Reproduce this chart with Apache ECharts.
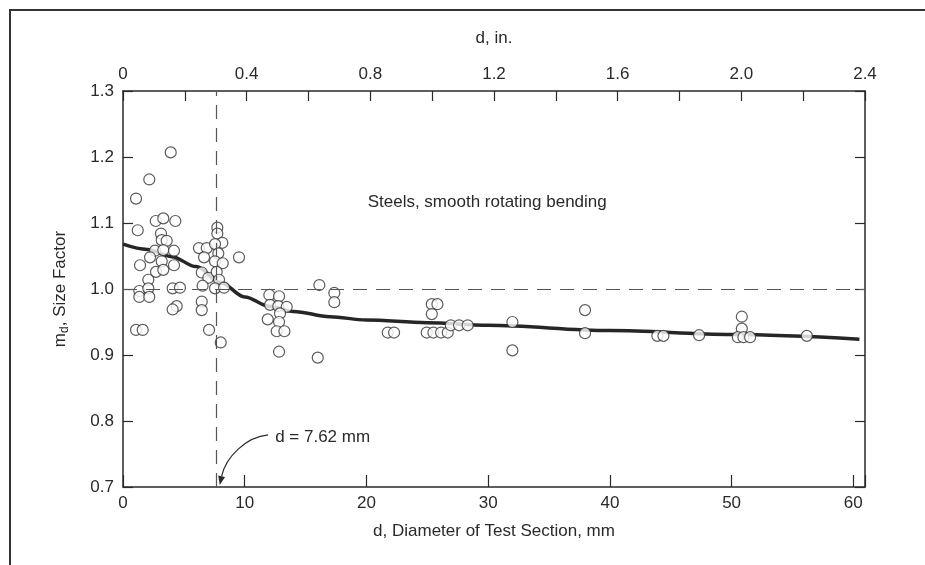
<!DOCTYPE html>
<html>
<head>
<meta charset="utf-8">
<script src="https://cdn.jsdelivr.net/npm/echarts@6/dist/echarts.min.js"></script>
<style>
  html, body { margin: 0; padding: 0; background: #fff; }
  #chart { width: 925px; height: 565px; }
</style>
</head>
<body>
<div id="chart"></div>
<script>
// test data: diameter (mm) and size factor m_d
const pointD = [
  1.07, 1.62, 1.21, 1.07, 2.16, 3.92, 2.69, 3.31, 4.30, 3.12,
  3.18, 3.59, 2.63, 3.31, 4.19, 1.40, 2.22, 3.18, 4.19, 2.71,
  3.31, 2.08, 1.34, 2.08, 1.34, 2.16, 4.08, 4.68, 4.41, 4.08,
  6.24, 6.88, 7.75, 7.75, 8.16, 7.56, 7.83, 7.56, 8.19, 6.66,
  6.47, 7.01, 7.70, 7.89, 7.56, 8.30, 6.54, 6.47, 6.47, 7.07,
  8.03, 9.53,
  12.02, 12.82, 12.08, 12.76, 13.45, 12.90, 11.89, 12.82, 12.63, 13.26,
  12.82,
  16.0, 16.13, 17.36, 17.36, 21.75, 22.27, 24.95, 25.50, 26.13, 26.68,
  25.37, 25.83, 25.37, 26.93, 27.61, 28.32, 31.99, 31.99, 37.96, 37.96,
  43.9, 44.4, 47.33, 50.84, 50.84, 50.51, 50.97, 51.52, 56.18
]
const pointM = [
  0.938, 0.938, 1.089, 1.137, 1.166, 1.207, 1.103, 1.107, 1.103, 1.084,
  1.074, 1.073, 1.058, 1.059, 1.058, 1.036, 1.048, 1.042, 1.036, 1.026,
  1.029, 1.014, 0.997, 1.001, 0.988, 0.988, 1.001, 1.002, 0.974, 0.969,
  1.062, 1.062, 1.093, 1.084, 1.070, 1.068, 1.054, 1.042, 1.039, 1.048,
  1.025, 1.017, 1.026, 1.014, 1.001, 1.002, 1.005, 0.981, 0.968, 0.938,
  0.919, 1.048,
  0.991, 0.989, 0.976, 0.974, 0.973, 0.963, 0.954, 0.950, 0.936, 0.936,
  0.905,
  0.896, 1.006, 0.994, 0.980, 0.934, 0.934, 0.934, 0.934, 0.934, 0.934,
  0.977, 0.977, 0.962, 0.945, 0.945, 0.945, 0.950, 0.907, 0.968, 0.933,
  0.929, 0.929, 0.930, 0.958, 0.940, 0.927, 0.927, 0.927, 0.929
]

// fitted trend curve
const curveD = [0, 2, 4, 6, 8, 10, 12, 14, 17, 20, 25, 30, 40, 50, 60.5]
const curveM = [1.068, 1.060, 1.049, 1.034, 1.010, 0.988, 0.974, 0.966, 0.958, 0.953, 0.949, 0.945, 0.937, 0.931, 0.924]

const refD = 7.62   // d = 7.62 mm (0.3 in.)
const refM = 1.0

const FONT = '"Liberation Sans", Arial, sans-serif'
const INK = '#2a2a2a'

const chart = echarts.init(document.getElementById('chart'))

// onZero off, otherwise the right axis jumps to x = 0
const axisLine = { show: true, onZero: false, lineStyle: { color: INK, width: 1.5 } }
const tick = (len) => ({ show: true, inside: true, length: len, lineStyle: { color: INK, width: 1.2 } })

const option = {
  animation: false,
  backgroundColor: '#fff',
  grid: { left: 123, right: 60, top: 91, bottom: 78 },
  xAxis: [
    {
      type: 'value',
      position: 'bottom',
      min: 0,
      max: 60.96,
      interval: 10,
      name: 'd, Diameter of Test Section, mm',
      nameLocation: 'middle',
      nameGap: 36,
      nameTextStyle: { fontFamily: FONT, fontSize: 17, color: INK },
      axisLine: axisLine,
      axisTick: tick(12),
      axisLabel: {
        fontFamily: FONT, fontSize: 17, color: INK, margin: 8,
        formatter: v => (Math.abs(v % 10) < 1e-6 ? String(v) : '')
      },
      splitLine: { show: false }
    },
    {
      type: 'value',
      position: 'top',
      min: 0,
      max: 2.4,
      interval: 0.2,
      name: 'd, in.',
      nameLocation: 'middle',
      nameGap: 44,
      nameTextStyle: { fontFamily: FONT, fontSize: 17, color: INK },
      axisLine: axisLine,
      axisTick: tick(10),
      axisLabel: {
        fontFamily: FONT, fontSize: 17, color: INK, margin: 8,
        formatter: v => {
          const k = v / 0.4
          if (Math.abs(k - Math.round(k)) > 1e-6) return ''
          return v === 0 ? '0' : v.toFixed(1)
        }
      },
      splitLine: { show: false }
    }
  ],
  yAxis: [
    {
      type: 'value',
      position: 'left',
      min: 0.7,
      max: 1.3,
      interval: 0.1,
      name: 'm{sub|d}, Size Factor',
      nameLocation: 'middle',
      nameGap: 52,
      nameTextStyle: {
        fontFamily: FONT, fontSize: 17, color: INK,
        rich: { sub: { fontFamily: FONT, fontSize: 12, color: INK, padding: [10, 0, 0, 0] } }
      },
      axisLine: axisLine,
      axisTick: tick(10),
      axisLabel: { fontFamily: FONT, fontSize: 17, color: INK, margin: 9, formatter: v => v.toFixed(1) },
      splitLine: { show: false }
    },
    {
      type: 'value',
      position: 'right',
      min: 0.7,
      max: 1.3,
      interval: 0.1,
      axisLine: axisLine,
      axisTick: tick(10),
      axisLabel: { show: false },
      splitLine: { show: false }
    }
  ],
  series: [
    {
      name: 'trend',
      type: 'line',
      xAxisIndex: 0,
      yAxisIndex: 0,
      smooth: 0.35,
      smoothMonotone: 'x',
      symbol: 'none',
      z: 2,
      lineStyle: { color: '#262626', width: 3.5 },
      data: curveD.map((d, i) => [d, curveM[i]]),
      markLine: {
        silent: true,
        symbol: 'none',
        label: { show: false },
        lineStyle: { color: '#555', width: 1.2, type: [14, 9] },
        data: [{ yAxis: refM }, { xAxis: refD }]
      }
    },
    {
      name: 'tests',
      type: 'scatter',
      xAxisIndex: 0,
      yAxisIndex: 0,
      z: 3,
      symbol: 'circle',
      symbolSize: 11,
      itemStyle: { color: '#fff', borderColor: '#333', borderWidth: 1.2 },
      data: pointD.map((d, i) => [d, pointM[i]])
    }
  ],
  graphic: [
    {
      type: 'rect',
      silent: true,
      z: 0,
      shape: { x: 10, y: 10, width: 1000, height: 1000 },
      style: { fill: null, stroke: '#333', lineWidth: 2 }
    }
  ]
}

chart.setOption(option)

// annotations anchored to data coordinates
const toPx = (d, m) => chart.convertToPixel({ xAxisIndex: 0, yAxisIndex: 0 }, [d, m])
const titlePos = toPx(20.1, 1.132)
const notePos = toPx(12.5, 0.776)
const tipPos = toPx(refD, 0.7)

const start = [notePos[0] - 7, notePos[1] - 2]
const end = [tipPos[0] + 4, tipPos[1] - 2]
const cp1 = [start[0] - 22, start[1] + 2]
const cp2 = [end[0] + 6, end[1] - 28]
const dx = end[0] - cp2[0], dy = end[1] - cp2[1]
const len = Math.sqrt(dx * dx + dy * dy)
const ux = dx / len, uy = dy / len
const headL = 9, headW = 3.5
const base = [end[0] - ux * headL, end[1] - uy * headL]

chart.setOption({
  graphic: [
    option.graphic[0],
    {
      type: 'text',
      silent: true,
      x: titlePos[0],
      y: titlePos[1],
      style: { text: 'Steels, smooth rotating bending', fontFamily: FONT, fontSize: 17, fill: INK, verticalAlign: 'middle', align: 'left' }
    },
    {
      type: 'text',
      silent: true,
      x: notePos[0],
      y: notePos[1],
      style: { text: 'd = 7.62 mm', fontFamily: FONT, fontSize: 17, fill: INK, verticalAlign: 'middle', align: 'left' }
    },
    {
      type: 'bezierCurve',
      silent: true,
      shape: { x1: start[0], y1: start[1], cpx1: cp1[0], cpy1: cp1[1], cpx2: cp2[0], cpy2: cp2[1], x2: base[0], y2: base[1] },
      style: { stroke: INK, lineWidth: 1.2, fill: null }
    },
    {
      type: 'polygon',
      silent: true,
      shape: {
        points: [
          end,
          [base[0] - uy * headW, base[1] + ux * headW],
          [base[0] + uy * headW, base[1] - ux * headW]
        ]
      },
      style: { fill: INK }
    }
  ]
})
</script>
</body>
</html>
